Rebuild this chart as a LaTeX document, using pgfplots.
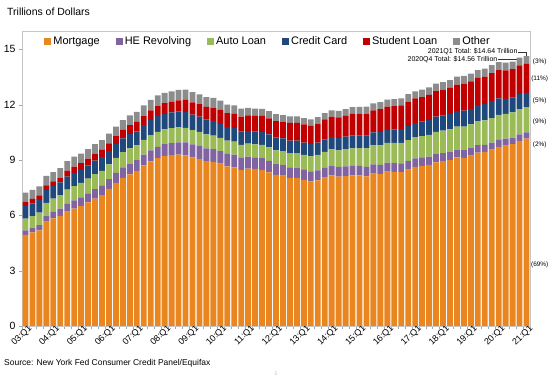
\documentclass[border=0pt]{standalone}
\usepackage{pgfplots}
\usepackage{pgfplotstable}
\pgfplotsset{compat=1.18}
\usepackage{fontspec}
\setmainfont{Liberation Sans}
\definecolor{cMort}{RGB}{234,134,32}
\definecolor{cHE}{RGB}{128,100,162}
\definecolor{cAuto}{RGB}{155,187,89}
\definecolor{cCC}{RGB}{31,73,125}
\definecolor{cSL}{RGB}{192,0,0}
\definecolor{cOth}{RGB}{140,140,140}
\pgfplotstableread{
x m he au cc sl ot
0 4.94 0.24 0.64 0.69 0.24 0.48
1 5.08 0.26 0.62 0.69 0.24 0.49
2 5.18 0.29 0.68 0.69 0.25 0.48
3 5.66 0.32 0.70 0.70 0.25 0.51
4 5.84 0.35 0.72 0.68 0.26 0.50
5 5.97 0.39 0.74 0.69 0.26 0.51
6 6.21 0.42 0.77 0.70 0.33 0.51
7 6.36 0.45 0.77 0.72 0.35 0.53
8 6.51 0.47 0.78 0.71 0.36 0.52
9 6.70 0.49 0.80 0.72 0.37 0.51
10 6.91 0.51 0.82 0.73 0.38 0.52
11 7.10 0.53 0.79 0.74 0.39 0.53
12 7.44 0.53 0.79 0.72 0.43 0.52
13 7.76 0.55 0.81 0.74 0.44 0.52
14 8.04 0.57 0.82 0.75 0.46 0.53
15 8.23 0.58 0.82 0.78 0.48 0.54
16 8.42 0.58 0.79 0.77 0.51 0.54
17 8.71 0.59 0.80 0.80 0.51 0.56
18 8.93 0.60 0.82 0.82 0.53 0.57
19 9.10 0.61 0.82 0.85 0.55 0.58
20 9.23 0.63 0.81 0.84 0.58 0.55
21 9.27 0.65 0.81 0.85 0.58 0.56
22 9.29 0.67 0.81 0.86 0.61 0.56
23 9.26 0.70 0.79 0.87 0.64 0.56
24 9.14 0.71 0.78 0.84 0.66 0.55
25 9.06 0.71 0.76 0.82 0.68 0.53
26 8.94 0.70 0.75 0.81 0.69 0.52
27 8.90 0.69 0.74 0.80 0.72 0.52
28 8.81 0.68 0.71 0.76 0.76 0.51
29 8.66 0.68 0.71 0.74 0.76 0.46
30 8.61 0.68 0.71 0.73 0.78 0.45
31 8.45 0.67 0.70 0.73 0.81 0.43
32 8.54 0.64 0.71 0.69 0.84 0.41
33 8.52 0.62 0.71 0.69 0.85 0.40
34 8.47 0.64 0.72 0.69 0.87 0.39
35 8.33 0.63 0.73 0.70 0.87 0.39
36 8.19 0.61 0.73 0.68 0.90 0.38
37 8.15 0.59 0.75 0.68 0.91 0.36
38 8.03 0.58 0.77 0.67 0.96 0.36
39 8.03 0.56 0.78 0.68 0.97 0.35
40 7.93 0.56 0.79 0.66 0.99 0.35
41 7.84 0.55 0.81 0.67 0.99 0.35
42 7.90 0.54 0.84 0.67 1.03 0.35
43 8.05 0.53 0.86 0.68 1.08 0.35
44 8.17 0.53 0.88 0.66 1.11 0.35
45 8.10 0.53 0.90 0.67 1.12 0.35
46 8.13 0.53 0.93 0.68 1.13 0.36
47 8.17 0.51 0.96 0.70 1.16 0.37
48 8.17 0.51 0.97 0.68 1.19 0.36
49 8.12 0.51 1.00 0.70 1.19 0.38
50 8.26 0.50 1.03 0.71 1.20 0.38
51 8.25 0.49 1.06 0.73 1.23 0.38
52 8.37 0.49 1.07 0.71 1.26 0.38
53 8.36 0.48 1.09 0.73 1.26 0.39
54 8.35 0.47 1.11 0.75 1.28 0.39
55 8.48 0.47 1.13 0.78 1.31 0.40
56 8.63 0.46 1.15 0.76 1.34 0.39
57 8.69 0.45 1.16 0.78 1.34 0.40
58 8.74 0.44 1.18 0.81 1.36 0.41
59 8.88 0.44 1.21 0.83 1.38 0.41
60 8.94 0.43 1.22 0.82 1.41 0.41
61 9.00 0.43 1.24 0.83 1.41 0.42
62 9.14 0.42 1.25 0.84 1.44 0.43
63 9.12 0.42 1.27 0.87 1.46 0.42
64 9.24 0.41 1.28 0.85 1.49 0.42
65 9.41 0.40 1.30 0.87 1.48 0.42
66 9.44 0.39 1.32 0.88 1.50 0.43
67 9.56 0.39 1.33 0.93 1.51 0.43
68 9.71 0.39 1.35 0.89 1.54 0.43
69 9.78 0.38 1.34 0.82 1.54 0.42
70 9.86 0.36 1.36 0.81 1.54 0.41
71 10.04 0.35 1.37 0.82 1.56 0.42
72 10.16 0.34 1.37 0.77 1.58 0.42
}\debt
\begin{document}
\begin{tikzpicture}
\useasboundingbox (0bp,0bp) rectangle (555bp,378bp);
\node[anchor=west,inner sep=0pt,font=\fontsize{10.5}{12}\selectfont] at (7bp,366bp) {Trillions of Dollars};
\node[anchor=west,inner sep=0pt,font=\fontsize{8.5}{10}\selectfont] at (4bp,15bp) {Source: New York Fed Consumer Credit Panel/Equifax};
\node[inner sep=0pt,font=\fontsize{5}{6}\selectfont,text=gray!50] at (276bp,4bp) {5};
\begin{axis}[at={(22bp,52bp)}, anchor=south west, width=508bp, height=295bp, scale only axis,
  ybar stacked, bar width=0.84, xmin=-0.5, xmax=72.5, ymin=0, ymax=16,
  clip=false,
  ytick={0,3,...,15},
  minor ytick={0,3,...,15},
  xtick={0,4,...,72},
  xticklabels={03:Q1,04:Q1,05:Q1,06:Q1,07:Q1,08:Q1,09:Q1,10:Q1,11:Q1,12:Q1,13:Q1,14:Q1,15:Q1,16:Q1,17:Q1,18:Q1,19:Q1,20:Q1,21:Q1},
  minor xtick={-0.5,0.5,...,72.5},
  xtick pos=bottom, ytick pos=left,
  tick align=outside,
  major tick length=0pt,
  minor tick length=3bp,
  tick style={gray!70},
  axis line style={gray!45},
  x tick label style={rotate=45, anchor=north east, font=\fontsize{9}{10}\selectfont, inner sep=1pt, xshift=4bp, yshift=1bp},
  y tick label style={font=\fontsize{10.5}{12}\selectfont, xshift=-3bp},
  /pgf/number format/assume math mode=true,
  legend columns=6,
  legend style={at={(0.038,0.995)}, anchor=north west, draw=none, fill=none,
    font=\fontsize{11}{13}\selectfont,
    /tikz/every even column/.append style={column sep=14bp}},
  legend image code/.code={\fill[#1] (0bp,-3.5bp) rectangle (7bp,3.5bp);},
]
\addplot[fill=cMort, draw=none] table[x=x,y=m]{\debt};
\addplot[fill=cHE, draw=none] table[x=x,y=he]{\debt};
\addplot[fill=cAuto, draw=none] table[x=x,y=au]{\debt};
\addplot[fill=cCC, draw=none] table[x=x,y=cc]{\debt};
\addplot[fill=cSL, draw=none] table[x=x,y=sl]{\debt};
\addplot[fill=cOth, draw=none] table[x=x,y=ot]{\debt};
\legend{Mortgage,HE Revolving,Auto Loan,Credit Card,Student Loan,Other}
\node[anchor=east, inner sep=0.5bp, font=\fontsize{7}{8}\selectfont] at (axis cs:70.8,14.86) {2021Q1 Total: \$14.64 Trillion};
\draw[black!80, line width=0.5pt] (axis cs:70.8,14.86) -- (axis cs:72,14.86) -- (axis cs:72,14.5);
\node[anchor=east, inner sep=0.5bp, font=\fontsize{7}{8}\selectfont] at (axis cs:67.9,14.45) {2020Q4 Total: \$14.56 Trillion};
\draw[black!80, line width=0.5pt] (axis cs:67.9,14.45) -- (axis cs:71,14.45) -- (axis cs:71,14.2);
\node[font=\fontsize{6.5}{8}\selectfont] at (axis cs:73.9,14.32) {(3\%)};
\node[font=\fontsize{6.5}{8}\selectfont] at (axis cs:73.9,13.4) {(11\%)};
\node[font=\fontsize{6.5}{8}\selectfont] at (axis cs:73.9,12.2) {(5\%)};
\node[font=\fontsize{6.5}{8}\selectfont] at (axis cs:73.9,11.1) {(9\%)};
\node[font=\fontsize{6.5}{8}\selectfont] at (axis cs:73.9,9.8) {(2\%)};
\node[font=\fontsize{6.5}{8}\selectfont] at (axis cs:73.9,3.3) {(69\%)};
\end{axis}
\end{tikzpicture}
\end{document}
